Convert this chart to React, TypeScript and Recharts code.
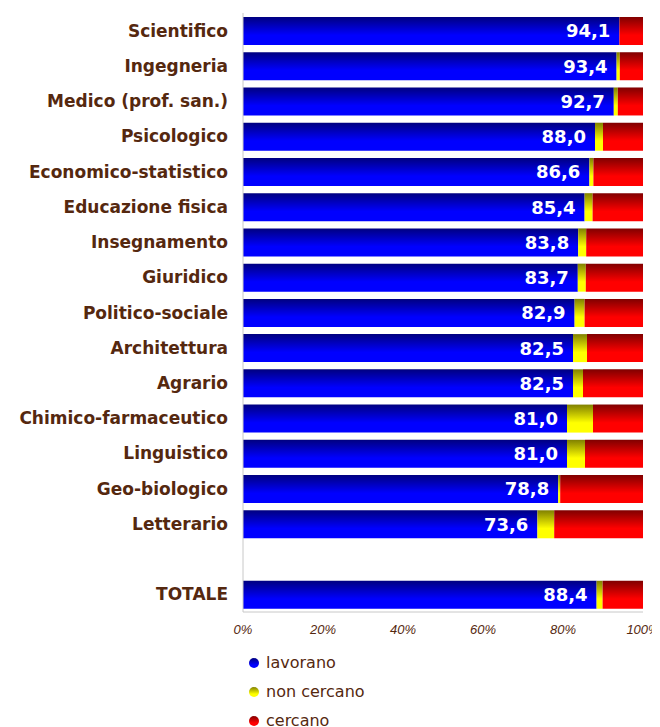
import React from "react";
import { BarChart, Bar, XAxis, YAxis, LabelList, Legend } from "recharts";

const categories = [
  "Scientifico",
  "Ingegneria",
  "Medico (prof. san.)",
  "Psicologico",
  "Economico-statistico",
  "Educazione fisica",
  "Insegnamento",
  "Giuridico",
  "Politico-sociale",
  "Architettura",
  "Agrario",
  "Chimico-farmaceutico",
  "Linguistico",
  "Geo-biologico",
  "Letterario",
  "",
  "TOTALE",
];

const lavorano = [94.1, 93.4, 92.7, 88.0, 86.6, 85.4, 83.8, 83.7, 82.9, 82.5, 82.5, 81.0, 81.0, 78.8, 73.6, null, 88.4];
const nonCercano = [0, 0.8, 1.0, 2.0, 1.0, 2.0, 2.0, 2.0, 2.5, 3.5, 2.5, 6.5, 4.5, 0.5, 4.2, null, 1.5];
const cercano = [5.9, 5.8, 6.3, 10.0, 12.4, 12.6, 14.2, 14.3, 14.6, 14.0, 15.0, 12.5, 14.5, 20.7, 22.2, null, 10.1];

const xTicks = [0, 20, 40, 60, 80, 100];

const seriesNames = ["lavorano", "non cercano", "cercano"];

const BROWN = "#55280f";

const data = categories.map((name, i) => ({
  name,
  lavorano: lavorano[i],
  nonCercano: nonCercano[i],
  cercano: cercano[i],
}));

const gradients = [
  { id: "gBlue", dark: "#000080", light: "#0000ff" },
  { id: "gYellow", dark: "#808000", light: "#ffff00" },
  { id: "gRed", dark: "#800000", light: "#ff0000" },
];

function fmt(v: any) {
  if (v === null || v === undefined) return "";
  return Number(v).toFixed(1).replace(".", ",");
}

function LegendBox() {
  return (
    <div style={{ height: 79, paddingLeft: 240, fontFamily: "DejaVu Sans", fontSize: 16, color: BROWN }}>
      {seriesNames.map((n, i) => (
        <div key={n} style={{ height: 29, display: "flex", alignItems: "center" }}>
          <svg width={12} height={12} style={{ marginRight: 6 }}>
            <defs>
              <linearGradient id={"lg" + i} x1="0" y1="0" x2="0" y2="1">
                <stop offset="0%" stopColor={gradients[i].dark} />
                <stop offset="70%" stopColor={gradients[i].light} />
              </linearGradient>
            </defs>
            <circle cx={6} cy={6} r={5} fill={`url(#lg${i})`} />
          </svg>
          <span>{n}</span>
        </div>
      ))}
    </div>
  );
}

export default function App() {
  return (
    <BarChart
      width={652}
      height={719}
      data={data}
      layout="vertical"
      margin={{ top: 5, right: 17, left: 0, bottom: 0 }}
      barSize={28}
    >
      <defs>
        {gradients.map((g) => (
          <linearGradient key={g.id} id={g.id} x1="0" y1="0" x2="0" y2="1">
            <stop offset="0%" stopColor={g.dark} />
            <stop offset="65%" stopColor={g.light} />
            <stop offset="100%" stopColor={g.light} />
          </linearGradient>
        ))}
      </defs>
      <XAxis
        type="number"
        domain={[0, 100]}
        ticks={xTicks}
        allowDataOverflow
        tickFormatter={(v) => `${v}%`}
        axisLine={{ stroke: "#c8c8c8" }}
        tickLine={false}
        tickSize={0}
        tickMargin={13}
        height={36}
        tick={{ fill: BROWN, fontSize: 13, fontStyle: "italic", fontFamily: "Liberation Sans" }}
        interval={0}
      />
      <XAxis
        xAxisId="top"
        orientation="top"
        type="number"
        domain={[0, 100]}
        height={0}
        tick={false}
        tickLine={false}
        axisLine={{ stroke: "#c8c8c8" }}
      />
      <YAxis
        type="category"
        dataKey="name"
        width={235}
        axisLine={{ stroke: "#c8c8c8" }}
        tickLine={false}
        tickSize={0}
        tickMargin={15}
        interval={0}
        tick={{ fill: BROWN, fontSize: 17, fontWeight: "bold", fontFamily: "DejaVu Sans" }}
      />
      <YAxis
        yAxisId="right"
        orientation="right"
        type="category"
        dataKey="name"
        width={0}
        tick={false}
        tickLine={false}
        axisLine={{ stroke: "#c8c8c8" }}
      />
      <Legend verticalAlign="bottom" content={() => <LegendBox />} />
      <Bar dataKey="lavorano" stackId="a" fill="url(#gBlue)" isAnimationActive={false}>
        <LabelList
          dataKey="lavorano"
          position="insideRight"
          offset={9}
          formatter={fmt}
          fill="#ffffff"
          style={{ fontFamily: "DejaVu Sans", fontWeight: "bold", fontSize: 18 }}
        />
      </Bar>
      <Bar dataKey="nonCercano" stackId="a" fill="url(#gYellow)" isAnimationActive={false} />
      <Bar dataKey="cercano" stackId="a" fill="url(#gRed)" isAnimationActive={false} />
    </BarChart>
  );
}
